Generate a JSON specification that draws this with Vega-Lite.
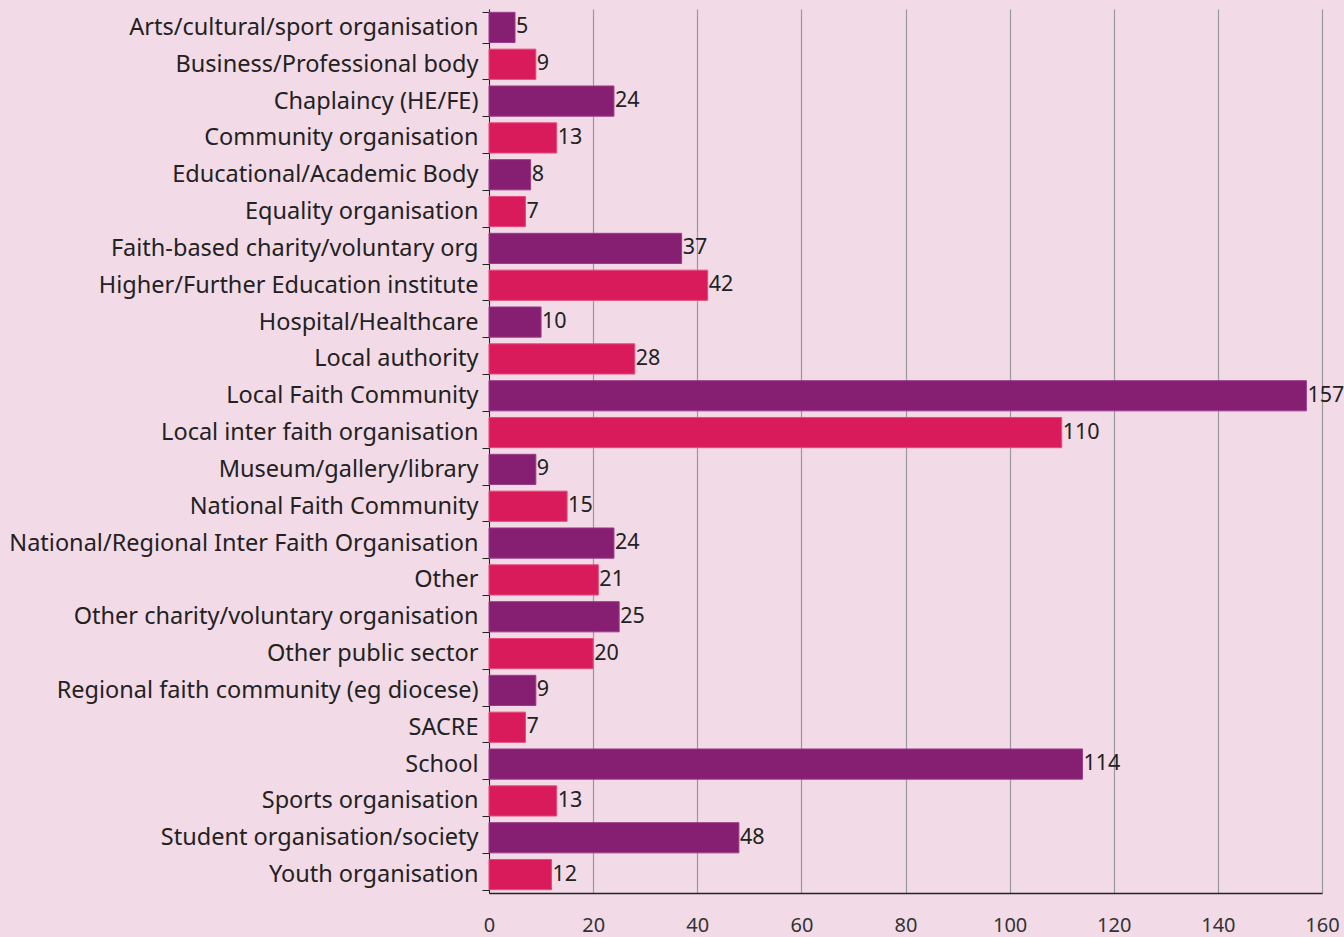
{
  "$schema": "https://vega.github.io/schema/vega-lite/v6.json",
  "width": 833,
  "height": 884,
  "autosize": {"type": "none"},
  "padding": {"left": 489, "top": 9, "right": 22, "bottom": 44},
  "background": "#f2dae7",
  "config": {"view": {"stroke": null}, "font": "Noto Sans"},
  "data": {"values": [
    {"type": "Arts/cultural/sport organisation", "count": 5},
    {"type": "Business/Professional body", "count": 9},
    {"type": "Chaplaincy (HE/FE)", "count": 24},
    {"type": "Community organisation", "count": 13},
    {"type": "Educational/Academic Body", "count": 8},
    {"type": "Equality organisation", "count": 7},
    {"type": "Faith-based charity/voluntary org", "count": 37},
    {"type": "Higher/Further Education institute", "count": 42},
    {"type": "Hospital/Healthcare", "count": 10},
    {"type": "Local authority", "count": 28},
    {"type": "Local Faith Community", "count": 157},
    {"type": "Local inter faith organisation", "count": 110},
    {"type": "Museum/gallery/library", "count": 9},
    {"type": "National Faith Community", "count": 15},
    {"type": "National/Regional Inter Faith Organisation", "count": 24},
    {"type": "Other", "count": 21},
    {"type": "Other charity/voluntary organisation", "count": 25},
    {"type": "Other public sector", "count": 20},
    {"type": "Regional faith community (eg diocese)", "count": 9},
    {"type": "SACRE", "count": 7},
    {"type": "School", "count": 114},
    {"type": "Sports organisation", "count": 13},
    {"type": "Student organisation/society", "count": 48},
    {"type": "Youth organisation", "count": 12}
  ]},
  "transform": [
    {"window": [{"op": "row_number", "as": "rn"}]},
    {"calculate": "datum.rn % 2 == 1 ? 'odd' : 'even'", "as": "parity"}
  ],
  "encoding": {
    "y": {
      "field": "type", "type": "nominal", "sort": null, "title": null,
      "scale": {"paddingInner": 0.18, "paddingOuter": 0.09},
      "axis": {
        "tickBand": "extent", "tickSize": 7, "tickColor": "#222", "domainColor": "#222",
        "labelFontSize": 23.5, "labelColor": "#222", "labelPadding": 4, "labelLimit": 600
      }
    }
  },
  "layer": [
    {
      "mark": {"type": "bar", "strokeWidth": 1},
      "encoding": {
        "x": {
          "field": "count", "type": "quantitative", "title": null,
          "scale": {"domain": [0, 160], "nice": false},
          "axis": {
            "values": [0, 20, 40, 60, 80, 100, 120, 140, 160],
            "grid": true, "gridColor": "#9a9a9a", "gridWidth": 1.2,
            "ticks": false, "domainColor": "#222", "domainWidth": 1.5,
            "labelFlush": false,
            "labelFontSize": 20, "labelColor": "#333", "labelPadding": 22
          }
        },
        "color": {"field": "parity", "type": "nominal", "legend": null,
          "scale": {"domain": ["odd", "even"], "range": ["#861e71", "#d91b5b"]}},
        "stroke": {"field": "parity", "type": "nominal", "legend": null,
          "scale": {"domain": ["odd", "even"], "range": ["#9c3c89", "#e64a7c"]}}
      }
    },
    {
      "mark": {"type": "text", "align": "left", "dx": 1, "fontSize": 21.5, "color": "#222"},
      "encoding": {
        "x": {"field": "count", "type": "quantitative"},
        "text": {"field": "count", "type": "quantitative"}
      }
    }
  ]
}
